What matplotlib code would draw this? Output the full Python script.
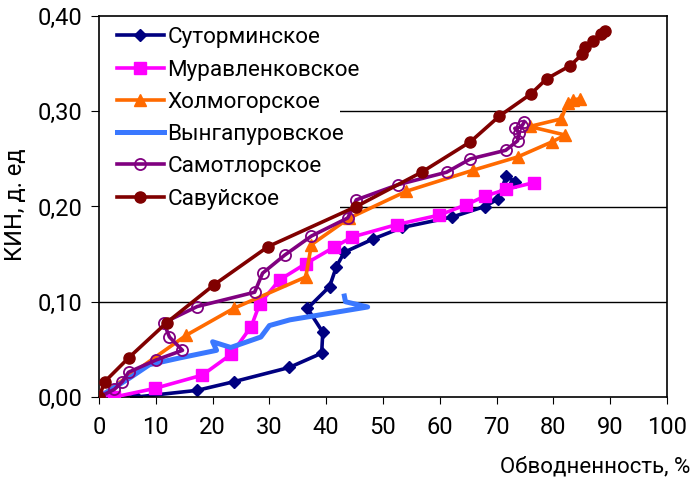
import matplotlib
matplotlib.use("Agg")
import matplotlib.pyplot as plt
from matplotlib.patches import Rectangle
from matplotlib.ticker import FuncFormatter, MultipleLocator

plt.rcParams['font.family'] = ['Roboto', 'DejaVu Sans']

# Суторминское
sut_x = [0, 6.6, 17.3, 23.7, 33.5, 39.2, 39.4, 36.7, 40.6, 41.8, 43.2, 48.3, 53.4, 62.2, 67.9, 70.3, 71.7, 73.2]
sut_y = [0.0, 0.0, 0.007, 0.016, 0.031, 0.046, 0.068, 0.093, 0.116, 0.137, 0.152, 0.166, 0.178, 0.189, 0.200, 0.208, 0.232, 0.226]

# Муравленковское
mur_x = [0, 2.7, 9.8, 18.2, 23.3, 26.8, 28.3, 31.8, 36.4, 41.3, 44.6, 52.4, 59.9, 64.7, 68.0, 71.7, 76.5]
mur_y = [0.0, 0.0, 0.009, 0.023, 0.045, 0.074, 0.098, 0.123, 0.140, 0.157, 0.168, 0.181, 0.191, 0.202, 0.211, 0.218, 0.225]

# Холмогорское
hol_x = [0, 15.4, 23.7, 36.4, 37.4, 44.1, 54.1, 65.8, 73.7, 79.8, 82.1, 75.8, 81.4, 82.5, 83.5, 84.6]
hol_y = [0.0, 0.065, 0.093, 0.126, 0.160, 0.188, 0.216, 0.238, 0.252, 0.268, 0.275, 0.284, 0.292, 0.309, 0.312, 0.313]

# Вынгапуровское
vyn_x = [0, 4.9, 8.9, 14.2, 20.7, 20.0, 23.2, 28.5, 30.0, 33.6, 47.3, 43.4, 43.2]
vyn_y = [0.0, 0.018, 0.034, 0.041, 0.049, 0.058, 0.052, 0.063, 0.075, 0.081, 0.0945, 0.100, 0.106]

# Самотлорское
sam_x = [0, 2.7, 4.1, 5.2, 10.1, 14.7, 12.4, 11.4, 17.3, 27.4, 28.8, 32.7, 37.4, 43.8, 45.3, 52.7,
         61.2, 65.4, 71.6, 73.7, 74.0, 73.2, 74.4, 74.9]
sam_y = [0.0, 0.008, 0.016, 0.026, 0.039, 0.049, 0.063, 0.078, 0.095, 0.110, 0.130, 0.149, 0.169, 0.188,
         0.207, 0.223, 0.236, 0.250, 0.259, 0.269, 0.277, 0.282, 0.284, 0.289]

# Савуйское
sav_x = [0, 1.0, 5.2, 11.9, 20.3, 29.8, 45.3, 56.8, 65.4, 70.5, 76.0, 78.8, 83.0, 85.1, 85.5, 86.9, 88.3, 89.0]
sav_y = [0.0, 0.016, 0.041, 0.078, 0.118, 0.158, 0.200, 0.236, 0.268, 0.295, 0.318, 0.334, 0.348, 0.360,
         0.367, 0.374, 0.381, 0.384]

W, H = 691, 479
fig = plt.figure(figsize=(W / 100, H / 100), dpi=100)
ax = fig.add_axes([99 / W, 1 - 397 / H, (667 - 99) / W, (397 - 16) / H])

for yv in (0.1, 0.2, 0.3):
    ax.axhline(yv, color='black', lw=1.0, zorder=0)

# white legend area (narrower than the legend text, like the original)
ax.add_patch(Rectangle((0, 0.486), 0.424, 0.514, transform=ax.transAxes,
                       facecolor='white', edgecolor='none', zorder=1))

lw = 2.6
ax.plot(sut_x, sut_y, color='#000080', lw=lw, marker='D', ms=6.5, label='Суторминское', zorder=2)
ax.plot(mur_x, mur_y, color='#ff00ff', lw=lw, marker='s', ms=8, label='Муравленковское', zorder=3)
ax.plot(hol_x, hol_y, color='#ff6a00', lw=lw, marker='^', ms=8, label='Холмогорское', zorder=4)
ax.plot(vyn_x, vyn_y, color='#3a78ff', lw=3.6, label='Вынгапуровское', zorder=5)
ax.plot(sam_x, sam_y, color='#800080', lw=lw, marker='o', ms=8, mfc='none', mew=1.3,
        label='Самотлорское', zorder=6)
ax.plot(sav_x, sav_y, color='#800000', lw=lw, marker='o', ms=8, label='Савуйское', zorder=7)

ax.set_xlim(0, 100)
ax.set_ylim(0, 0.40)
ax.xaxis.set_major_locator(MultipleLocator(10))
ax.yaxis.set_major_locator(MultipleLocator(0.1))
ax.yaxis.set_major_formatter(FuncFormatter(lambda v, p: f"{v:.2f}".replace('.', ',')))
ax.tick_params(axis='both', direction='out', labelsize=17, color='black')
ax.tick_params(axis='x', length=5, pad=9)
ax.tick_params(axis='y', length=6, pad=6)
for s in ax.spines.values():
    s.set_linewidth(1.2)

leg = ax.legend(loc='upper left', bbox_to_anchor=(0.0175, 0.991), borderaxespad=0.0,
                frameon=False, fontsize=16.2, handlelength=2.1, handletextpad=0.15,
                labelspacing=0.5, borderpad=0.35)
leg.set_zorder(10)

fig.text(16 / W, 1 - 205 / H, 'КИН, д. ед', rotation=90, ha='center', va='center', fontsize=17)
fig.text(690 / W, 1 - 467 / H, 'Обводненность, %', ha='right', va='center', fontsize=16)

fig.savefig('out.png', dpi=100)
